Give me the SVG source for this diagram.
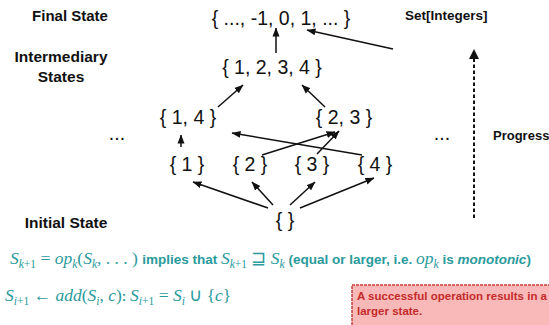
<svg xmlns="http://www.w3.org/2000/svg" width="549" height="325" viewBox="0 0 549 325">
<defs>
<marker id="ah" markerUnits="userSpaceOnUse" markerWidth="9" markerHeight="8" refX="8.5" refY="4" orient="auto"><path d="M0,0.5 L9,4 L0,7.5 z" fill="#111"/></marker>
<marker id="ahd" markerUnits="userSpaceOnUse" markerWidth="10" markerHeight="10" refX="9" refY="5" orient="auto"><path d="M0,0 L10,5 L0,10 z" fill="#111"/></marker>
<style>
.lbl{font-family:"Liberation Sans",Arial,sans-serif;font-weight:bold;fill:#111}
.node{font-family:"Liberation Sans",Arial,sans-serif;font-size:19.5px;fill:#111;text-anchor:middle}
.edge{stroke:#111;stroke-width:1.5;fill:none;marker-end:url(#ah)}
.f{font-family:"Liberation Serif","Times New Roman",serif;font-size:17.5px;fill:#2a9a9c}
.i{font-style:italic}
.s{font-size:11.5px}
.sb{font-family:"Liberation Sans",Arial,sans-serif;font-weight:bold;font-size:13.5px}
.note{font-family:"Liberation Sans",Arial,sans-serif;font-weight:bold;font-size:11.5px;fill:#c42b2b}
</style>
</defs>
<rect width="549" height="325" fill="#fff"/>

<g id="labels">
<text class="lbl" x="70" y="21" font-size="15" text-anchor="middle">Final State</text>
<text class="lbl" x="61" y="62" font-size="15.5" text-anchor="middle">Intermediary</text>
<text class="lbl" x="61" y="82" font-size="15.5" text-anchor="middle">States</text>
<text class="lbl" x="66" y="228" font-size="15.5" text-anchor="middle">Initial State</text>
<text class="lbl" x="405" y="20" font-size="13.5">Set[Integers]</text>
<text class="lbl" x="493" y="140" font-size="13">Progress</text>
</g>

<g id="n-final"><text class="node" x="281" y="25">{ ..., -1, 0, 1, ...  }</text></g>
<g id="n-1234"><text class="node" x="272" y="74">{ 1, 2, 3, 4 }</text></g>
<g id="n-14"><text class="node" x="188" y="124">{ 1, 4 }</text></g>
<g id="n-23"><text class="node" x="344" y="124">{ 2, 3 }</text></g>
<g id="n-dots-l"><text class="node" x="117" y="140">...</text></g>
<g id="n-dots-r"><text class="node" x="442" y="140">...</text></g>
<g id="n-1"><text class="node" x="187" y="171">{ 1 }</text></g>
<g id="n-2"><text class="node" x="250" y="171">{ 2 }</text></g>
<g id="n-3"><text class="node" x="312" y="171">{ 3 }</text></g>
<g id="n-4"><text class="node" x="375" y="171">{ 4 }</text></g>
<g id="n-empty"><text class="node" x="285" y="227">{ }</text></g>

<g id="connectors">
<line class="edge" x1="276" y1="53" x2="276" y2="28"/>
<line class="edge" x1="393" y1="49" x2="307" y2="30"/>
<line class="edge" x1="218" y1="107" x2="243" y2="85"/>
<line class="edge" x1="325" y1="107" x2="302" y2="85"/>
<line class="edge" x1="181" y1="147" x2="181" y2="135"/>
<line class="edge" x1="362" y1="155" x2="232" y2="133"/>
<line class="edge" x1="262" y1="155" x2="335" y2="132"/>
<line class="edge" x1="317" y1="154" x2="339" y2="131"/>
<line class="edge" x1="268" y1="208" x2="193" y2="182"/>
<line class="edge" x1="273" y1="205" x2="252" y2="182"/>
<line class="edge" x1="290" y1="205" x2="315" y2="182"/>
<line class="edge" x1="300" y1="208" x2="374" y2="178"/>
<line x1="474" y1="218" x2="474" y2="50" stroke="#111" stroke-width="2" stroke-dasharray="3.5 2.5" marker-end="url(#ahd)"/>
</g>

<g id="formula1">
<text class="f" x="10" y="264"><tspan class="i">S</tspan><tspan class="s i" dy="4">k</tspan><tspan class="s">+1</tspan><tspan dy="-4"> = </tspan><tspan class="i">op</tspan><tspan class="s i" dy="4">k</tspan><tspan dy="-4">(</tspan><tspan class="i">S</tspan><tspan class="s i" dy="4">k</tspan><tspan dy="-4">, . . . ) </tspan><tspan class="sb">implies that </tspan><tspan class="i">S</tspan><tspan class="s i" dy="4">k</tspan><tspan class="s">+1</tspan><tspan dy="-4"> ⊒ </tspan><tspan class="i">S</tspan><tspan class="s i" dy="4">k</tspan><tspan class="sb" dy="-4"> (equal or larger, i.e. </tspan><tspan class="i">op</tspan><tspan class="s i" dy="4">k</tspan><tspan class="sb" dy="-4"> is </tspan><tspan class="sb i">monotonic</tspan><tspan class="sb">)</tspan></text>
</g>

<g id="formula2">
<text class="f" x="5" y="301"><tspan class="i">S</tspan><tspan class="s i" dy="4">i</tspan><tspan class="s">+1</tspan><tspan dy="-4"> ← </tspan><tspan class="i">add</tspan>(<tspan class="i">S</tspan><tspan class="s i" dy="4">i</tspan><tspan dy="-4">, </tspan><tspan class="i">c</tspan>)<tspan class="sb" font-size="15">: </tspan><tspan class="i">S</tspan><tspan class="s i" dy="4">i</tspan><tspan class="s">+1</tspan><tspan dy="-4"> = </tspan><tspan class="i">S</tspan><tspan class="s i" dy="4">i</tspan><tspan dy="-4"> ∪ {</tspan><tspan class="i">c</tspan>}</text>
</g>

<g id="note">
<rect x="352" y="285" width="205" height="45" fill="#f9b9b9" stroke="#d03a3a" stroke-width="1.5" stroke-dasharray="3 1"/>
<text class="note" x="357" y="300">A successful operation results in a</text>
<text class="note" x="357" y="315">larger state.</text>
</g>
</svg>
